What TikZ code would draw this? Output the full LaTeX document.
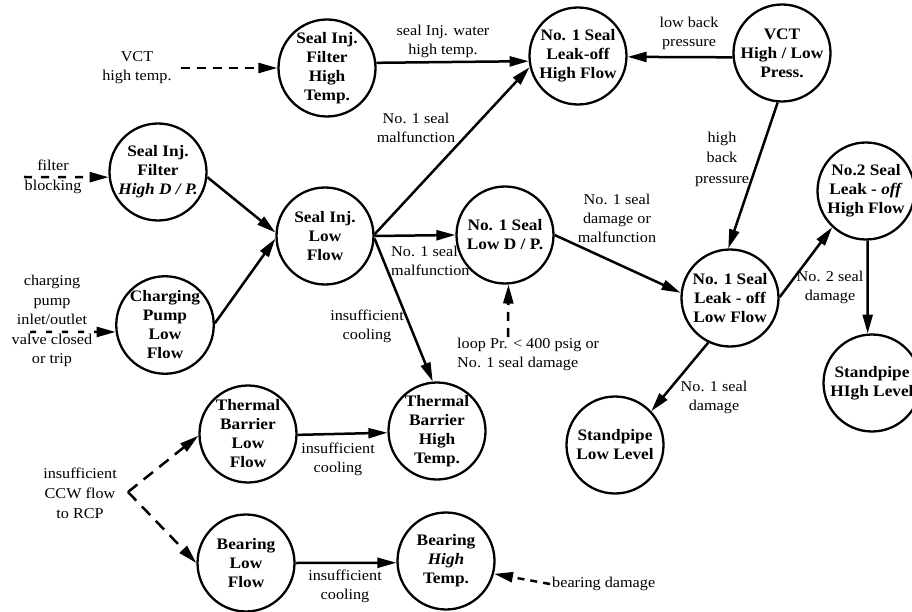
\documentclass[tikz,border=0pt]{standalone}
\usepackage{fontspec}
\setmainfont{Liberation Serif}[FakeStretch=1.08]
\usetikzlibrary{arrows.meta}

\newcommand\statefont{\bfseries\fontsize{16}{19}\selectfont}
\newcommand\notefont{\fontsize{15}{19}\selectfont}

\tikzset{
  state/.style={circle, draw, line width=2.3pt, minimum size=97pt, inner sep=0pt,
                align=center, font=\statefont},
  note/.style={align=center, inner sep=0pt, font=\notefont},
  flow/.style={line width=2.5pt, -{Triangle[length=19pt,width=10pt]}},
  cause/.style={flow, dash pattern=on 9pt off 7pt},
}

\begin{document}
\begin{tikzpicture}[x=1pt,y=-1pt]
\fill[white] (0,0) rectangle (912,612);
\useasboundingbox (0,0) rectangle (912,612);

% ---- states ----
\node[state] (fht)  at (327,68)  {Seal Inj.\\Filter\\High\\Temp.};
\node[state] (hf)   at (578,56)  {No. 1 Seal\\Leak-off\\High Flow};
\node[state] (vct)  at (782,53)  {VCT\\High / Low\\Press.};
\node[state] (fdp)  at (158,172) {Seal Inj.\\Filter\\\textit{High D / P.}};
\node[state] (slf)  at (325,236) {Seal Inj.\\Low\\Flow};
\node[state] (cpl)  at (165,325) {Charging\\Pump\\Low\\Flow};
\node[state] (ldp)  at (505,235) {No. 1 Seal\\Low D / P.};
\node[state] (llf)  at (730,298) {No. 1 Seal\\Leak - off\\Low Flow};
\node[state] (n2hf) at (866,191) {No.2 Seal\\Leak - \textit{off}\\High Flow};
\node[state] (sph)  at (872,383) {Standpipe\\HIgh Level};
\node[state] (spl)  at (615,445) {Standpipe\\Low Level};
\node[state] (tbh)  at (437,431) {Thermal\\Barrier\\High\\Temp.};
\node[state] (tbl)  at (248,434) {Thermal\\Barrier\\Low\\Flow};
\node[state] (bl)   at (246,563) {Bearing\\Low\\Flow};
\node[state] (bh)   at (446,561) {Bearing\\\textit{High}\\Temp.};

% ---- outside causes and edge notes ----
\node[note] (vcttemp)  at (137,68)  {VCT\\high temp.};
\node[note,font=\fontsize{15}{20}\selectfont] (filtxt) at (53,177) {filter\\blocking};
\node[note,font=\fontsize{15}{19.5}\selectfont] (chgtxt) at (52,321)
      {charging\\pump\\inlet/outlet\\valve closed\\or trip};
\node[note] (water)    at (443,41)  {seal Inj. water\\high temp.};
\node[note] (lowback)  at (689,33)  {low back\\pressure};
\node[note] (mal1)     at (416,128) {No. 1 seal\\malfunction};
\node[note,align=left,anchor=west] (mal2) at (391,261) {No. 1 seal\\malfunction};
\node[note] (cool1)    at (367,326) {insufficient\\cooling};
\node[note] (dmgmal)   at (617,218) {No. 1 seal\\damage or\\malfunction};
\node[note,font=\fontsize{15}{20.5}\selectfont] (highback) at (722,159) {high\\back\\pressure};
\node[note] (seal2)    at (830,287) {No. 2 seal\\damage};
\node[note] (seal1)    at (714,397) {No. 1 seal\\damage};
\node[note,align=left,anchor=west] (loop) at (457,354) {loop Pr. < 400 psig or\\No. 1 seal damage};
\node[note] (cool2)    at (338,459) {insufficient\\cooling};
\node[note] (cool3)    at (345,586) {insufficient\\cooling};
\node[note,font=\fontsize{15}{20}\selectfont] (ccw) at (80,493) {insufficient\\CCW flow\\to RCP};
\node[note,anchor=west] (bdmg) at (552,584) {bearing damage};

\coordinate (filstart) at (24,177);
\coordinate (chgstart) at (30,332);
\coordinate (looptop)  at (508,337);
\coordinate (ccwtip)   at (128,492);

% ---- solid propagation arrows ----
\draw[flow] (fht.6)   -- (hf.186);
\draw[flow] (slf.2)   -- (hf.193);
\draw[flow] (slf.0)   -- (ldp.180);
\draw[flow] (slf.-3)  -- (tbh.95);
\draw[flow] (fdp.-6)  -- (slf.176);
\draw[flow] (cpl.2)   -- (slf.183);
\draw[flow] (vct.185) -- (hf.-1);
\draw[flow] (vct.265) -- (llf.92);
\draw[flow] (ldp.0)   -- (llf.174);
\draw[flow] (llf.1)   -- (n2hf.227);
\draw[flow] (n2hf.-88) -- (sph.95);
\draw[flow] (llf.244) -- (spl.43);
\draw[flow] (tbl.-1)  -- (tbh.182);
\draw[flow] (bl.0)    -- (bh.182);

% ---- dashed initiating causes ----
\draw[cause] ([xshift=9pt]vcttemp.east) -- (fht.180);
\draw[cause,dash pattern=on 8pt off 9pt] (filstart) -- (fdp.186);
\draw[cause,dash pattern=on 6pt off 10pt] (chgstart) -- (cpl.188);
\draw[cause] (looptop) -- (ldp.-86);
\draw[cause,dash pattern=on 12pt off 8pt] (ccwtip) -- (tbl.182);
\draw[cause,dash pattern=on 12pt off 8pt] (ccwtip) -- (bl.180);
\draw[cause,dash pattern=on 7pt off 6pt] ([xshift=-2pt]bdmg.west) -- (bh.-15);
\end{tikzpicture}
\end{document}
